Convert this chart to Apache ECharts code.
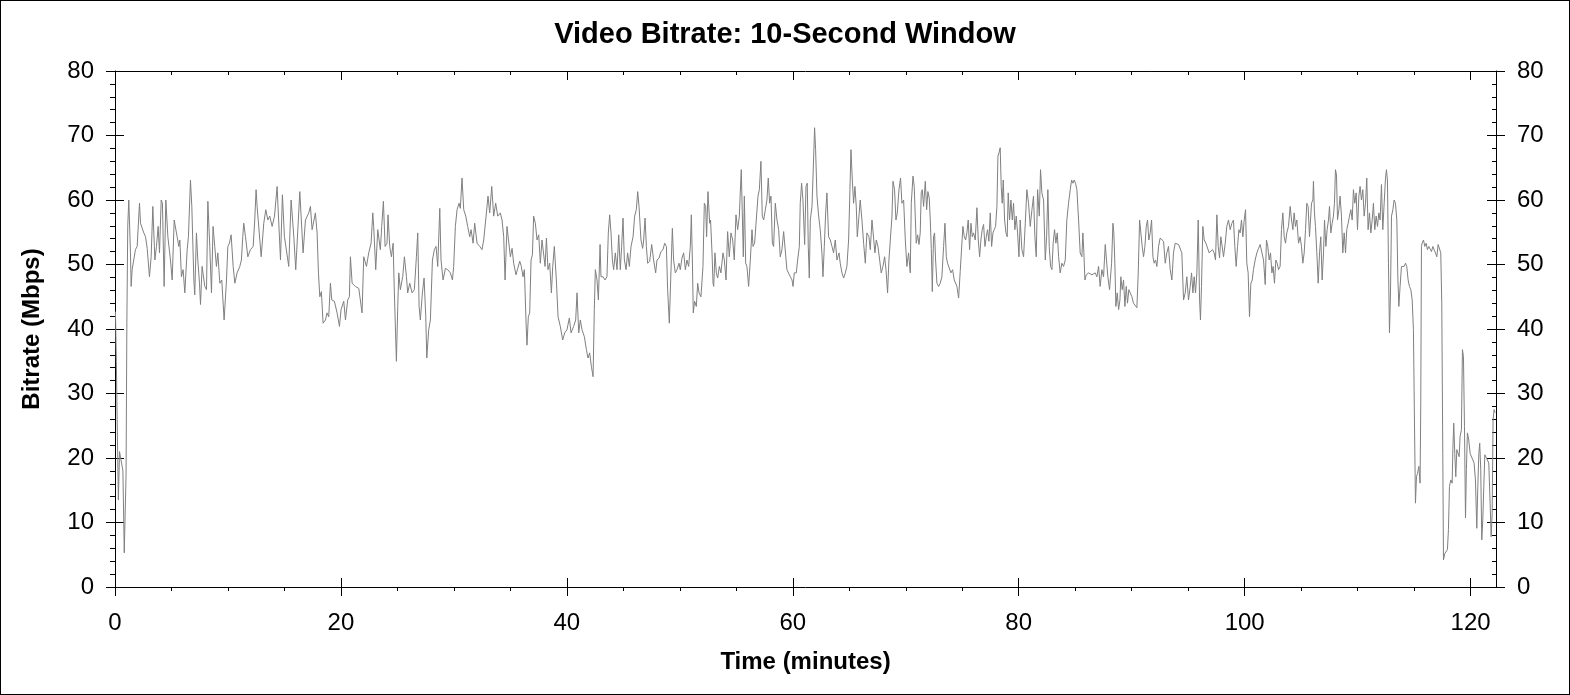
<!DOCTYPE html>
<html>
<head>
<meta charset="utf-8">
<title>Video Bitrate: 10-Second Window</title>
<script src="https://cdn.jsdelivr.net/npm/echarts@6/dist/echarts.min.js"></script>
<style>
  html, body { margin: 0; padding: 0; background: #fff; }
  #chart { width: 1570px; height: 695px; }
  #frame { position: absolute; left: 0; top: 0; width: 1570px; height: 695px;
           box-sizing: border-box; border: 1px solid #000; pointer-events: none; }
</style>
</head>
<body>
<div id="chart"></div>
<div id="frame"></div>
<script>
'use strict';

// time of each sample, minutes
var minutes = [
  0.04,0.12,0.19,0.3,0.4,0.55,0.7,0.82,0.92,0.98,
  1.05,1.13,1.22,1.37,1.43,1.52,1.81,1.96,2.17,2.26,
  2.55,2.70,2.85,3.05,3.20,3.35,3.53,3.67,3.82,3.94,
  4.09,4.20,4.35,4.50,4.68,4.91,5.06,5.24,5.50,5.65,
  5.74,5.88,6.03,6.18,6.39,6.50,6.68,6.80,6.98,7.06,
  7.21,7.33,7.48,7.57,7.71,7.95,8.10,8.22,8.39,8.54,
  8.68,8.83,8.98,9.10,9.28,9.45,9.66,9.87,9.99,10.13,
  10.28,10.46,10.61,10.81,11.05,11.19,11.31,11.40,11.55,11.76,
  11.99,12.23,12.37,12.49,12.58,12.94,13.17,13.35,13.53,13.70,
  13.91,14.12,14.35,14.65,14.82,15.00,15.38,15.59,15.83,16.00,
  16.36,16.65,16.86,17.15,17.30,
  17.45,17.74,17.89,18.01,18.13,18.27,18.42,18.63,18.77,18.92,
  19.07,19.19,19.42,19.66,19.87,20.01,20.25,20.40,20.60,20.75,
  20.84,20.99,21.28,21.58,21.87,22.02,22.26,22.46,22.67,22.82,
  22.90,23.08,23.26,23.49,23.61,23.76,23.91,24.08,24.17,24.32,
  24.47,24.62,24.73,24.91,25.03,25.12,25.26,25.47,25.62,25.80,
  25.91,26.09,26.30,26.50,26.68,26.80,26.92,27.03,27.21,27.36,
  27.51,27.60,27.77,27.92,28.10,28.27,28.42,28.57,28.75,28.86,
  29.04,29.25,29.45,29.69,29.87,29.98,30.13,30.28,30.46,30.57,
  30.72,30.87,31.05,31.22,31.40,31.52,31.70,31.84,32.05,32.29,
  32.49,32.64,32.85,33.02,33.17,33.35,33.52,33.70,33.88,34.11,
  34.26,34.41,34.53,34.70,35.00,
  35.15,35.29,35.50,35.65,35.83,35.97,36.12,36.24,36.39,36.47,
  36.59,36.71,36.83,36.95,37.06,37.21,37.36,37.51,37.65,37.80,
  37.95,38.07,38.19,38.33,38.48,38.63,38.75,38.89,39.07,39.22,
  39.42,39.63,39.81,40.01,40.22,40.37,40.60,40.78,40.90,41.05,
  41.19,41.34,41.55,41.73,41.87,42.02,42.17,42.32,42.43,42.52,
  42.67,42.79,42.94,43.02,43.20,43.38,43.55,43.67,43.79,43.91,
  44.03,44.14,44.29,44.44,44.59,44.73,44.85,44.97,45.09,45.24,
  45.38,45.53,45.68,45.86,46.00,46.15,46.27,46.39,46.56,46.71,
  46.80,46.92,47.04,47.15,47.33,47.51,47.68,47.86,47.98,48.16,
  48.33,48.51,48.66,48.81,48.92,49.07,49.19,49.34,49.45,49.60,
  49.75,49.93,50.04,50.19,50.34,50.49,50.63,50.78,50.93,51.02,
  51.11,51.19,51.31,51.46,51.58,51.70,51.87,52.05,52.17,52.29,
  52.37,52.49,52.64,52.72,
  52.85,52.94,53.00,53.11,53.23,53.35,53.50,53.64,53.82,53.94,
  54.09,54.23,54.38,54.53,54.68,54.82,54.97,55.12,55.27,55.35,
  55.44,55.53,55.62,55.71,55.83,55.94,56.09,56.24,56.39,56.48,
  56.62,56.77,56.92,57.04,57.18,57.30,57.42,57.57,57.71,57.83,
  57.95,58.07,58.19,58.30,58.45,58.60,58.75,58.89,59.04,59.19,
  59.34,59.48,59.63,59.78,59.93,60.02,60.13,60.31,60.43,60.58,
  60.66,60.78,60.90,61.05,61.17,61.28,61.37,61.46,61.55,61.70,
  61.84,61.93,62.02,62.14,62.29,62.43,62.58,62.67,62.79,62.91,
  63.02,63.17,63.32,63.47,63.61,63.76,63.91,64.09,64.20,64.35,
  64.50,64.65,64.79,64.94,65.06,65.15,65.27,65.38,65.50,65.62,
  65.71,65.83,65.97,66.12,66.27,66.42,66.56,66.74,66.86,67.01,
  67.15,67.27,67.39,67.54,67.69,67.83,67.98,68.13,68.25,68.39,
  68.51,68.66,68.78,68.87,69.01,69.13,69.25,69.40,69.54,69.66,
  69.81,69.96,70.10,70.25,70.40,
  70.49,70.64,70.75,70.84,70.93,71.05,71.17,71.28,71.37,71.46,
  71.58,71.73,71.85,71.96,72.08,72.17,72.26,72.35,72.46,72.55,
  72.64,72.76,72.91,73.05,73.20,73.35,73.47,73.59,73.70,73.85,
  74.00,74.15,74.29,74.41,74.53,74.68,74.82,74.94,75.06,75.18,
  75.30,75.41,75.53,75.65,75.77,75.89,76.00,76.15,76.30,76.42,
  76.54,76.65,76.77,76.89,77.01,77.13,77.24,77.36,77.48,77.60,
  77.72,77.83,77.95,78.07,78.16,78.25,78.36,78.45,78.54,78.63,
  78.75,78.87,78.98,79.07,79.19,79.31,79.43,79.54,79.66,79.78,
  79.90,80.02,80.13,80.28,80.43,80.58,80.72,80.87,81.02,81.17,
  81.31,81.43,81.55,81.67,81.82,81.93,82.05,82.20,82.35,82.47,
  82.58,82.70,82.82,82.94,83.05,83.17,83.29,83.41,83.53,83.67,
  83.82,83.97,84.12,84.26,84.41,84.56,84.68,84.80,84.91,85.03,
  85.15,85.30,85.44,85.59,85.68,85.77,85.86,85.98,86.18,86.33,
  86.48,86.62,86.77,86.92,87.07,87.21,87.36,87.51,87.66,87.77,
  87.89,88.04,
  88.22,88.34,88.42,88.51,88.60,88.72,88.84,88.96,89.04,89.16,
  89.28,89.40,89.52,89.63,89.75,89.87,90.02,90.16,90.31,90.46,
  90.58,90.70,90.81,90.93,91.05,91.17,91.29,91.40,91.52,91.64,
  91.76,91.88,91.99,92.11,92.23,92.38,92.52,92.67,92.82,92.97,
  93.11,93.26,93.41,93.56,93.70,93.85,94.00,94.15,94.29,94.44,
  94.59,94.74,94.88,95.03,95.18,95.30,95.42,95.53,95.65,95.77,
  95.89,96.01,96.09,96.18,96.30,96.42,96.57,96.71,96.86,97.01,
  97.16,97.30,97.42,97.54,97.66,97.78,97.89,98.01,98.13,98.28,
  98.42,98.57,98.72,98.87,99.01,99.13,99.25,99.37,99.49,99.60,
  99.72,99.84,99.96,100.08,100.19,100.31,100.43,100.55,100.67,100.78,
  100.93,101.08,101.23,101.37,101.52,101.67,101.82,101.93,102.05,102.17,
  102.29,102.41,102.52,102.64,102.76,102.88,103.00,103.14,103.26,103.38,
  103.50,103.62,103.73,103.88,104.03,104.15,104.27,104.38,104.50,104.62,
  104.77,104.91,105.03,105.15,105.27,105.39,105.50,105.62,105.74,105.80,
  105.92,106.04,106.09,106.18,106.27,106.39,106.51,106.63,106.74,106.86,
  106.98,107.07,107.19,107.30,107.42,107.51,107.63,107.75,107.86,107.95,
  108.04,108.13,108.22,108.34,108.45,108.57,108.69,108.81,108.93,109.04,
  109.16,109.28,109.40,109.52,109.63,109.75,109.87,109.99,110.11,110.22,
  110.34,110.46,110.58,110.70,110.81,110.93,111.05,111.17,111.29,111.40,
  111.52,111.64,111.76,111.88,111.99,112.11,112.23,112.35,112.47,112.55,
  112.64,112.73,112.82,112.91,113.00,113.12,113.23,113.35,113.47,113.56,
  113.65,113.76,113.88,114.00,114.12,114.24,114.35,114.47,114.59,114.71,
  114.83,114.94,115.03,115.12,115.21,115.30,115.42,115.53,115.59,115.65,
  115.71,115.83,115.95,116.07,116.18,116.30,116.42,116.54,116.66,116.77,
  116.89,117.01,117.13,117.25,117.36,117.45,117.54,117.60,117.72,117.84,
  117.95,118.04,118.13,118.25,118.37,118.43,118.51,118.60,118.69,118.78,
  118.90,118.99,119.07,119.19,119.28,119.37,119.46,119.55,119.63,119.72,
  119.84,119.96,120.08,120.20,120.31,120.43,120.55,120.64,120.73,120.81,
  120.90,120.99,121.08,121.17,121.26,121.38,121.49,121.61,121.73,121.82,
  121.91,121.99,122.08,122.17
];

// 10-second window bitrate at each sample, Mbps
var mbps = [
  42.7,35,26,13.5,21,21.3,18,5.3,5.6,17.5,
  41,56,60,51.8,46.6,49.2,52.3,52.8,59.5,56.4,
  54.9,54.3,52.5,48.1,51.2,59.0,50.7,52.8,55.9,51.8,
  60.0,59.5,46.6,60.0,54.3,50.7,47.6,56.9,54.3,52.8,
  53.8,48.1,49.2,45.6,52.3,54.3,63.1,59.0,47.6,45.3,
  54.9,50.7,47.1,43.8,49.7,46.6,46.1,59.8,52.8,45.6,
  55.9,52.8,49.7,51.8,47.1,47.6,41.4,47.6,52.8,53.3,
  54.6,49.7,47.1,48.7,49.7,50.7,54.3,56.4,54.3,51.2,
  52.3,52.8,56.9,61.6,59.0,51.2,56.4,58.5,56.9,57.5,
  55.9,57.5,62.1,50.7,60.8,54.3,49.7,60.0,54.3,49.2,
  61.3,51.8,56.9,58.0,59.0,
  55.4,58.0,54.9,48.7,45.0,45.8,40.9,41.4,42.5,41.9,
  47.1,44.5,44.3,42.5,40.4,43.0,44.3,41.4,44.5,45.0,
  51.2,47.1,46.6,46.3,42.5,51.2,49.7,51.8,53.3,58.0,
  55.9,49.2,55.4,52.3,55.9,59.8,52.8,53.3,57.7,52.8,
  51.2,53.3,45.6,35.0,43.5,48.7,46.1,48.1,51.2,48.1,
  45.6,47.1,45.6,46.1,51.2,54.9,43.5,41.4,45.6,47.9,
  41.9,35.5,39.9,41.4,50.7,52.3,52.8,49.7,58.7,50.7,
  47.6,49.4,49.2,48.7,47.6,49.7,55.9,58.5,59.5,58.7,
  63.4,58.5,57.5,55.9,54.3,55.4,53.3,56.4,53.3,52.8,
  52.3,53.8,57.5,60.6,58.0,62.1,57.5,59.5,57.5,58.0,
  56.9,54.3,47.6,55.9,51.2,
  52.5,50.2,48.4,49.4,50.5,49.7,48.1,49.2,40.9,37.5,
  41.9,42.5,50.7,51.5,57.5,56.4,53.8,54.6,50.2,53.8,
  54.1,49.7,54.1,49.2,50.2,45.6,49.7,52.8,47.6,41.9,
  40.4,38.3,39.4,39.9,41.7,39.4,40.4,41.4,45.6,39.4,
  41.4,39.9,38.8,36.8,35.5,36.3,34.2,32.6,43.0,49.2,
  47.6,44.5,53.1,48.1,48.1,47.6,48.1,54.9,57.7,54.9,
  50.7,49.2,51.8,49.2,54.6,49.2,52.8,57.2,50.7,49.2,
  51.8,49.7,52.8,54.3,57.5,58.5,61.3,59.0,53.8,52.5,
  53.8,57.2,52.8,50.2,50.5,53.1,50.7,48.7,50.7,51.0,
  52.0,52.3,53.3,52.8,46.1,40.9,47.6,55.6,50.7,48.7,
  49.2,50.2,49.2,51.0,51.8,49.2,50.7,49.7,52.8,57.7,
  50.7,42.5,44.3,43.5,47.1,45.6,45.0,49.7,59.5,59.0,
  54.3,61.3,56.4,56.9,
  51.8,47.1,46.6,51.8,48.7,47.9,49.7,48.7,51.8,50.7,
  47.6,55.1,51.2,54.9,53.8,50.7,57.7,55.4,57.5,61.1,
  64.7,58.0,51.2,60.6,50.2,49.7,46.6,50.7,55.4,52.8,
  53.3,53.6,60.6,61.6,66.0,57.5,56.9,58.5,60.0,63.4,
  59.5,60.6,53.3,52.8,59.5,56.9,55.4,51.2,52.3,55.1,
  55.4,49.2,48.9,48.1,47.6,46.6,48.7,48.7,50.7,52.8,
  59.5,62.6,60.0,53.1,62.1,62.6,52.8,47.9,56.9,59.0,
  66.2,71.2,67.8,60.6,57.5,55.4,51.8,48.1,52.8,58.0,
  61.1,54.3,53.8,52.8,51.8,53.8,50.7,51.8,50.2,48.7,
  47.9,48.7,49.7,53.8,61.6,67.8,63.1,59.5,62.1,59.0,
  54.3,56.9,60.0,56.9,53.3,50.2,54.9,54.3,52.3,56.9,
  56.9,51.8,53.8,52.8,50.7,48.7,49.7,51.2,49.2,45.6,
  50.7,50.5,57.5,62.9,61.6,56.9,58.0,61.6,63.4,59.5,
  60.0,53.8,49.7,51.8,48.7,
  59.5,63.7,62.1,57.5,53.3,54.6,53.1,54.9,61.1,61.6,
  59.0,62.9,58.5,61.3,60.3,56.9,52.5,45.8,54.3,54.9,
  50.7,47.1,46.6,47.1,48.1,52.8,56.4,51.2,50.2,50.2,
  48.7,49.2,47.6,47.6,46.6,44.8,48.9,49.2,55.9,54.3,
  53.8,54.9,56.9,52.3,56.4,54.3,54.9,53.8,58.8,53.8,
  51.2,53.8,55.4,56.2,52.8,54.3,55.4,53.6,58.0,52.8,
  54.9,55.4,55.9,59.0,66.8,67.3,68.1,62.1,59.5,63.1,
  56.9,54.9,54.3,61.1,56.9,60.0,56.9,59.5,55.4,57.5,
  54.9,51.2,56.9,52.3,51.2,56.4,61.6,59.5,55.9,58.5,
  60.6,54.3,51.2,61.6,57.5,64.7,61.1,60.0,50.7,54.3,
  61.6,52.8,49.7,49.2,53.3,55.4,53.3,54.9,51.2,48.7,
  50.2,49.7,50.7,56.9,59.5,61.6,63.1,62.6,63.1,62.6,
  61.6,56.9,51.8,51.2,54.9,51.8,47.6,48.4,48.7,48.7,
  48.4,48.7,48.7,48.1,49.7,46.6,49.2,48.1,53.1,53.3,
  48.1,46.1,
  50.2,56.4,54.9,50.2,43.5,45.6,43.0,44.5,48.1,46.1,
  47.6,43.5,46.6,44.0,46.1,45.6,45.0,44.0,43.8,43.3,
  48.7,56.9,56.9,52.8,51.2,52.8,55.9,56.9,53.8,54.9,
  56.9,51.2,50.2,50.7,49.7,52.8,54.1,54.3,53.6,50.2,
  51.8,52.8,49.2,47.6,51.8,53.3,53.3,53.1,52.8,51.8,
  44.5,45.6,48.1,44.5,46.6,48.7,45.6,48.1,45.6,48.7,
  56.9,44.5,41.4,46.6,55.9,53.8,53.3,53.3,51.8,51.8,
  52.3,51.8,50.7,57.7,52.8,51.0,54.3,52.8,51.2,53.3,
  55.9,56.9,55.4,56.4,56.9,52.8,49.7,52.8,55.4,54.9,
  56.9,54.3,56.9,58.5,50.2,48.7,41.9,47.1,47.6,49.2,
  50.7,51.8,52.5,53.1,52.8,50.7,46.9,53.8,52.8,50.7,
  51.8,48.7,49.7,47.1,50.7,50.2,49.2,49.7,55.4,58.0,
  54.3,53.3,54.9,55.9,59.0,56.9,55.4,58.0,55.9,56.9,
  53.3,54.3,52.8,50.2,51.8,55.4,59.5,59.0,54.3,54.0,
  59.5,60.0,62.9,58.0,55.9,51.8,47.1,51.8,54.3,47.6,
  51.8,56.9,52.8,55.4,56.9,59.0,54.9,56.4,57.5,59.5,
  64.7,63.9,56.9,58.5,60.6,57.5,51.8,54.9,51.8,55.4,
  56.4,57.5,58.5,56.9,61.6,59.5,61.1,55.4,60.6,62.1,
  60.0,61.6,57.5,59.5,63.4,55.4,58.0,54.9,56.9,59.5,
  55.4,57.5,55.9,58.0,56.9,62.4,55.4,59.5,63.4,64.7,
  63.1,50.2,39.4,45.6,57.5,58.5,60.0,59.5,56.9,48.1,
  43.5,46.6,49.7,49.7,49.7,50.2,49.7,47.6,46.6,46.1,
  44.5,39.9,25.9,13.0,17.1,17.6,18.7,16.1,28.5,52.8,
  53.3,53.8,52.8,53.3,52.3,52.8,53.1,52.0,52.8,52.3,
  51.8,51.2,53.1,52.8,51.8,44.0,20.7,4.2,5.2,5.0,
  5.8,8.9,15.6,16.6,16.1,21.3,25.4,20.7,17.1,21.3,
  21.3,20.2,23.3,24.4,36.8,35.7,24.9,10.7,18.2,23.9,
  22.8,20.7,20.7,19.7,19.2,16.6,9.1,15.6,20.7,22.3,
  18.2,7.3,10.4,15.6,20.5,20.2,19.7,19.2,13.0,7.8,
  11.4,25.9,27.5,27.0
];

// tick positions
var xMajorTicks = [0, 20, 40, 60, 80, 100, 120];
var xMinorTicks = [5, 10, 15, 25, 30, 35, 45, 50, 55, 65, 70, 75, 85, 90, 95, 105, 110, 115];

if (minutes.length !== mbps.length) {
	console.error('length mismatch', minutes.length, mbps.length);
}

var FONT = 'Arial, "Liberation Sans", sans-serif';
var INK = '#000';
var X_MAX = 122.25;

// one x axis per tick row; only the first one carries labels and name
function xAxis(position, ticks, len, inside, showLine) {
	return {
		type: 'value', position: position, min: 0, max: X_MAX,
		axisLine: { show: showLine, onZero: false, lineStyle: { color: INK, width: 1 } },
		axisTick: { show: true, inside: inside, length: len, customValues: ticks,
			lineStyle: { color: INK, width: 1 } },
		axisLabel: { show: false },
		splitLine: { show: false }
	};
}

function yAxis(position, len, inside, showLine, minorLen) {
	return {
		type: 'value', position: position, min: 0, max: 80, interval: 10,
		axisLine: { show: showLine, onZero: false, lineStyle: { color: INK, width: 1 } },
		axisTick: { show: true, inside: inside, length: len, lineStyle: { color: INK, width: 1 } },
		minorTick: { show: !!minorLen, splitNumber: 5, length: minorLen || 0,
			lineStyle: { color: INK, width: 1 } },
		axisLabel: { show: false },
		splitLine: { show: false },
		minorSplitLine: { show: false }
	};
}

var tickLabel = { show: true, fontFamily: FONT, fontSize: 24, color: INK };
var axisTitle = { fontFamily: FONT, fontSize: 24, fontWeight: 'bold', color: INK };

var bottomMain = xAxis('bottom', xMajorTicks, 9, false, true);
bottomMain.axisLabel = Object.assign({ customValues: xMajorTicks, margin: 24 }, tickLabel);
bottomMain.name = 'Time (minutes)';
bottomMain.nameLocation = 'middle';
bottomMain.nameGap = 63;
bottomMain.nameMoveOverlap = false;
bottomMain.nameTextStyle = axisTitle;

var leftMain = yAxis('left', 9, false, true, 5);
leftMain.axisLabel = Object.assign({ margin: 21 }, tickLabel);
leftMain.name = 'Bitrate (Mbps)';
leftMain.nameLocation = 'middle';
leftMain.nameGap = 71;
leftMain.nameMoveOverlap = false;
leftMain.nameTextStyle = axisTitle;

var rightMain = yAxis('right', 9, true, true, 4);
rightMain.axisLabel = Object.assign({ margin: 21 }, tickLabel);

var chart = echarts.init(document.getElementById('chart'));

chart.setOption({
	animation: false,
	backgroundColor: '#fff',
	title: {
		text: 'Video Bitrate: 10-Second Window',
		left: 'center', top: 20, padding: 0,
		textStyle: { fontFamily: FONT, fontSize: 29, fontWeight: 'bold', color: INK }
	},
	grid: { left: 115, top: 71, width: 1381, height: 516,
		containLabel: false, outerBoundsMode: 'none' },
	xAxis: [
		bottomMain,
		xAxis('bottom', xMajorTicks, 9, true, false),
		xAxis('bottom', xMinorTicks, 4, false, false),
		xAxis('top', xMajorTicks, 9, true, true),
		xAxis('top', xMinorTicks, 4, true, false)
	],
	yAxis: [
		leftMain,
		yAxis('left', 9, true, false, 0),
		rightMain,
		yAxis('right', 9, false, false, 0)
	],
	series: [{
		type: 'line',
		xAxisIndex: 0,
		yAxisIndex: 0,
		data: minutes.map(function (t, i) { return [t, mbps[i]]; }),
		showSymbol: false,
		symbol: 'none',
		silent: true,
		lineStyle: { color: '#808080', width: 1 }
	}]
});
</script>
</body>
</html>
